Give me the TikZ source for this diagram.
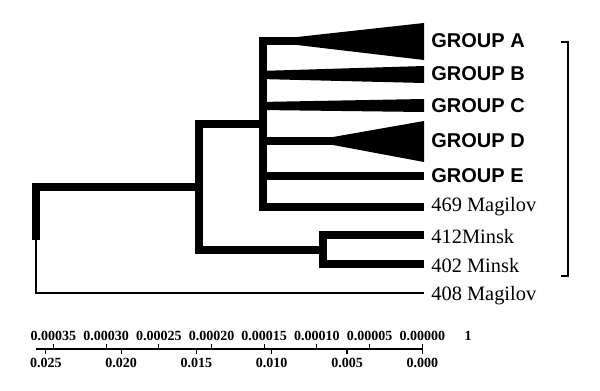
\documentclass[tikz,border=0pt]{standalone}
\usepackage{fontspec}
\setmainfont{Liberation Serif}
\setsansfont{Liberation Sans}
\tikzset{
  thickbr/.style={
    line width=4pt,
    line join=miter
  },
  thinbr/.style={line width=1pt},
  wedge/.style={fill=black},
  grp/.style={
    anchor=base west,
    inner sep=0pt,
    font=\sffamily\bfseries\fontsize{10}{12}\selectfont
  },
  strain/.style={
    anchor=base west,
    inner sep=0pt,
    font=\fontsize{10.2}{12}\selectfont
  },
  axlbl/.style={
    anchor=base,
    inner sep=0pt,
    font=\bfseries\fontsize{7}{8}\selectfont
  },
  axisln/.style={line width=0.55pt}
}

\begin{document}
\begin{tikzpicture}[x=0.5pt,y=-0.5pt]
  \useasboundingbox (0,0) rectangle (600,391);
  % labels
  \node[grp] (gA) at (431,47) {GROUP A};
  \node[grp] (gB) at (431,80) {GROUP B};
  \node[grp] (gC) at (431,112) {GROUP C};
  \node[grp] (gD) at (431,147) {GROUP D};
  \node[grp] (gE) at (431,182) {GROUP E};
  \node[strain] (s469) at (431,211) {469 Magilov};
  \node[strain] (s412) at (431,243) {412Minsk};
  \node[strain] (s402) at (431,272) {402 Minsk};
  \node[strain] (s408) at (431,300) {408 Magilov};
  % inner nodes and tips
  \coordinate (root) at (36,240);
  \coordinate (n1) at (199,187);
  \coordinate (n2) at (263,124);
  \coordinate (n3) at (323,250);
  \coordinate (tA) at (297,41);
  \coordinate (tD) at (333,141);
  \coordinate (tE) at (424,176);
  \coordinate (t469) at (424,207);
  \coordinate (t412) at (424,235);
  \coordinate (t402) at (424,264);
  \coordinate (t408) at (424,293);
  % branches
  \draw[thickbr] (root) |- (n1);
  \draw[thinbr] (root) |- (t408);
  \draw[thickbr] (n2) -| (n1) |- (n3);
  \draw[thickbr] (tA) -| (n2) |- (t469);
  \draw[thickbr] (n2 |- tD) -- (tD);
  \draw[thickbr] (n2 |- tE) -- (tE);
  \draw[thickbr] (t412) -| (n3) |- (t402);
  % collapsed groups
  \fill[wedge] (297,37) -- (424,23) -- (424,60) -- (297,45) -- cycle;
  \fill[wedge] (259,71) -- (424,66) -- (424,83) -- (259,79) -- cycle;
  \fill[wedge] (259,102) -- (424,99) -- (424,112) -- (259,110) -- cycle;
  \fill[wedge] (333,137) -- (424,121) -- (424,162) -- (333,145) -- cycle;
  % bracket
  \draw[line width=0.6pt] (561,42) -- (568,42) -- (568,276) -- (561,276);
  % scale bar
  \draw[axisln] (36,349) -- (422,349);
  \foreach \v [count=\i from 0] in {0.00035,0.00030,0.00025,0.00020,0.00015,0.00010,0.00005,0.00000} {
    \draw[axisln] (53.4+\i*52.7,349) -- ++(0,-5);
    \node[axlbl] at (53.4+\i*52.7,340) {\v};
  }
  \foreach \v [count=\i from 0] in {0.025,0.020,0.015,0.010,0.005,0.000} {
    \draw[axisln] (45.8+\i*75.3,349) -- ++(0,5);
    \node[axlbl] at (45.8+\i*75.3,367) {\v};
  }
  \node[axlbl] at (468,340) {1};
\end{tikzpicture}
\end{document}
